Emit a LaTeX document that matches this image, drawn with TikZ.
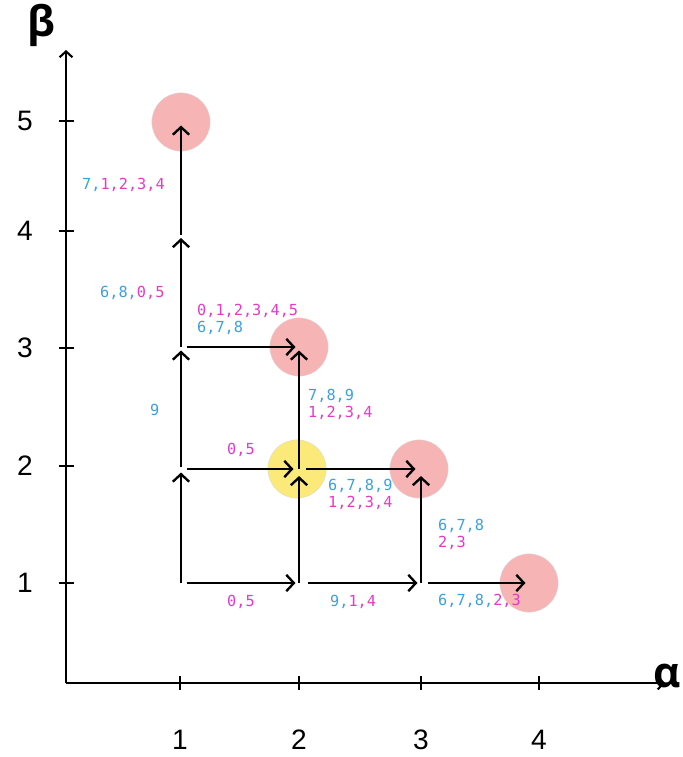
\documentclass[tikz,border=0pt]{standalone}
\usepackage{fontspec}
\setmainfont{Liberation Sans}
\newfontfamily\monofont{DejaVu Sans Mono}
\newfontfamily\greekfont{Open Sans}
\usetikzlibrary{arrows.meta, positioning, calc}

\definecolor{lblblue}{RGB}{58,160,228}
\definecolor{lblpink}{RGB}{228,58,200}
\definecolor{spotpink}{RGB}{247,180,180}
\definecolor{spotyellow}{RGB}{251,233,122}

\begin{document}
\begin{tikzpicture}[x=0.03cm, y=-0.03cm, >={Straight Barb[length=6.5pt, width=14pt, line width=2pt]},
    axis/.style={line width=1.8pt},
    flow/.style={->, line width=2pt, shorten >=3pt, shorten <=5pt},
    spot/.style={circle, minimum size=1.75cm, inner sep=0pt, draw=black!15, line width=0.3pt},
    lbl/.style={anchor=west, font=\monofont\fontsize{13}{14.5}\selectfont, align=left, inner sep=0pt},
    tick/.style={font=\fontsize{24}{26}\selectfont}]
  \useasboundingbox (0,0) rectangle (683,757);

  % grid points
  \coordinate (O) at (66,683);
  \coordinate (g11) at (181,583);
  \coordinate (g12) at (181,469);
  \coordinate (g13) at (181,347);
  \coordinate (g14) at (181,231);
  \coordinate (g21) at (299,583);
  \coordinate (g31) at (421,583);

  % highlighted states
  \node[spot, fill=spotpink] (p15) at (181,122) {};
  \node[spot, fill=spotpink] (p23) at (299,347) {};
  \node[spot, fill=spotyellow] (p22) at (297,469) {};
  \node[spot, fill=spotpink] (p32) at (419,469) {};
  \node[spot, fill=spotpink] (p41) at (529,583) {};

  % axes
  \coordinate (ytop) at (66,50);
  \coordinate (xend) at (665,683);
  \draw[axis, ->, >={Straight Barb[length=5pt, width=11pt, line width=1.8pt]}] (O) -- (ytop);
  \draw[axis, ->, >={Straight Barb[length=5pt, width=11pt, line width=1.8pt]}] (O) -- (xend);
  \node[font=\greekfont\bfseries\fontsize{36}{38}\selectfont] (beta) at (41,25) {β};
  \node[font=\greekfont\bfseries\fontsize{36}{38}\selectfont] (alpha) at (667,676) {α};

  \foreach \x/\t in {180/1, 299/2, 421/3, 539/4} {
    \draw[axis] (\x,676) -- (\x,690);
    \node[tick] at (\x,740) {\t};
  }
  \foreach \y/\t in {583/1, 466/2, 348/3, 231/4, 121/5} {
    \draw[axis] (59,\y) -- (74,\y);
    \node[tick] at (25,\y) {\t};
  }

  % transitions
  \draw[flow, shorten <=0pt] (g11) -- (g12);
  \draw[flow, shorten <=2pt] (g12) -- (g13);
  \draw[flow, shorten <=0pt, shorten >=6pt] (g13) -- (g14);
  \draw[flow, shorten <=-3pt] (g14) -- (p15.center);
  \draw[flow] (g13) -- (p23.center);
  \draw[flow] (g12) -- (p22.center);
  \draw[flow] (g11) -- (g21);
  \draw[flow, shorten <=8pt] (g21) -- (g31);
  \draw[flow, shorten <=6pt] (g31) -- (p41.center);
  \draw[flow, shorten <=0pt, shorten >=6pt] (g21) -- (p22.center -| g21);
  \draw[flow, shorten <=0pt] (p22.center -| g21) -- (p23.center);
  \draw[flow, shorten <=8pt] (p22.center) -- (p32.center);
  \draw[flow, shorten <=0pt, shorten >=6pt] (g31) -- (p32.center -| g31);

  % labels
  \node[lbl] (l1) at (82,185) {\textcolor{lblblue}{7,}\textcolor{lblpink}{1,2,3,4}};
  \node[lbl] (l2) at (100,293) {\textcolor{lblblue}{6,8,}\textcolor{lblpink}{0,5}};
  \node[lbl] (l3) at (150,410) {\textcolor{lblblue}{9}};
  \node[lbl] (l4) at (227,450) {\textcolor{lblpink}{0,5}};
  \node[lbl] (l5) at (197,319) {\textcolor{lblpink}{0,1,2,3,4,5}\\\textcolor{lblblue}{6,7,8}};
  \node[lbl] (l6) at (308,404) {\textcolor{lblblue}{7,8,9}\\\textcolor{lblpink}{1,2,3,4}};
  \node[lbl] (l7) at (328,494) {\textcolor{lblblue}{6,7,8,9}\\\textcolor{lblpink}{1,2,3,4}};
  \node[lbl] (l8) at (438,534) {\textcolor{lblblue}{6,7,8}\\\textcolor{lblpink}{2,3}};
  \node[lbl] (l9) at (227,602) {\textcolor{lblpink}{0,5}};
  \node[lbl] (l10) at (330,602) {\textcolor{lblblue}{9,}\textcolor{lblpink}{1,4}};
  \node[lbl] (l11) at (438,601) {\textcolor{lblblue}{6,7,8,}\textcolor{lblpink}{2,3}};
\end{tikzpicture}
\end{document}
